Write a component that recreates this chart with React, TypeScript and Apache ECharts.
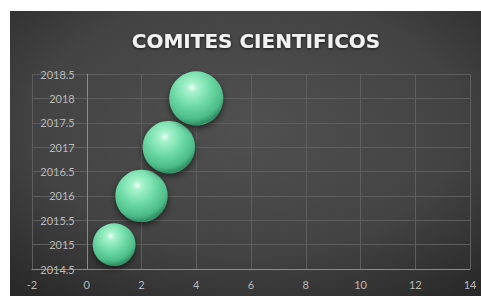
import React, { useEffect, useRef } from "react";
import * as echarts from "echarts";

const titleText = "COMITES CIENTIFICOS";
const xValues = [1, 2, 3, 4];
const yValues = [2015, 2016, 2017, 2018];
const bubbleSizes = [10, 15, 15, 16];
const xTicks = { min: -2, max: 14, interval: 2 };
const yTicks = { min: 2014.5, max: 2018.5, interval: 0.5 };

export default function App() {
  const ref = useRef<HTMLDivElement>(null);
  useEffect(() => {
    if (!ref.current) return;
    const chart = echarts.init(ref.current, null, { renderer: "svg" });
    const maxSize = Math.max(...bubbleSizes);
    const data = xValues.map((x, i) => [x, yValues[i], bubbleSizes[i]]);
    const gridLeft = 32;
    const gridRight = 11;
    const plotW = 481 - gridLeft - gridRight;
    const zeroOffset = ((0 - xTicks.min) / (xTicks.max - xTicks.min)) * plotW;
    chart.setOption({
      animation: false,
      backgroundColor: "#ffffff",
      graphic: [
        {
          type: "rect",
          z: -10,
          silent: true,
          shape: { x: 10, y: 11, width: 471, height: 285 },
          style: {
            fill: {
              type: "radial",
              x: 0.5,
              y: 0.4,
              r: 0.75,
              colorStops: [
                { offset: 0, color: "#505050" },
                { offset: 0.6, color: "#434343" },
                { offset: 1, color: "#292929" },
              ],
            },
          },
        },
      ],
      title: {
        text: titleText,
        left: 251,
        textAlign: "center",
        top: 26,
        textStyle: {
          color: "#f2f2f2",
          fontFamily: "DejaVu Sans",
          fontWeight: "bold",
          fontSize: 20,
          textShadowColor: "rgba(0,0,0,0.7)",
          textShadowBlur: 3,
          textShadowOffsetY: 1,
        },
      },
      grid: {
        left: gridLeft,
        right: gridRight,
        top: 74,
        bottom: 27,
        containLabel: false,
        outerBoundsMode: "none",
      },
      xAxis: {
        type: "value",
        min: xTicks.min,
        max: xTicks.max,
        interval: xTicks.interval,
        axisLine: { onZero: false, lineStyle: { color: "#8a8a8a", width: 1 } },
        axisTick: { show: false },
        axisLabel: {
          color: "#b8b8b8",
          fontFamily: "Lato",
          fontSize: 11,
          margin: 10,
        },
        splitLine: { show: true, lineStyle: { color: "#5e5e5e", width: 1 } },
      },
      yAxis: {
        type: "value",
        min: yTicks.min,
        max: yTicks.max,
        interval: yTicks.interval,
        offset: -zeroOffset,
        axisLine: { show: true, onZero: false, lineStyle: { color: "#8a8a8a", width: 1 } },
        axisTick: { show: false },
        axisLabel: {
          color: "#b8b8b8",
          fontFamily: "Lato",
          fontSize: 11,
          margin: 12,
          formatter: (v: number) => String(v),
        },
        splitLine: { show: true, lineStyle: { color: "#5e5e5e", width: 1 } },
      },
      series: [
        {
          type: "scatter",
          data,
          symbolSize: (v: number[]) => 54 * Math.sqrt(v[2] / maxSize),
          itemStyle: {
            color: {
              type: "radial",
              x: 0.42,
              y: 0.3,
              r: 0.75,
              colorStops: [
                { offset: 0, color: "#effff7" },
                { offset: 0.12, color: "#a8f3cd" },
                { offset: 0.45, color: "#70dca8" },
                { offset: 0.78, color: "#4cbc88" },
                { offset: 0.92, color: "#2f8e63" },
                { offset: 1, color: "#5fd29c" },
              ],
            },
            shadowColor: "rgba(0,0,0,0.55)",
            shadowBlur: 6,
            shadowOffsetY: 3,
            opacity: 1,
          },
        },
      ],
    });
    return () => chart.dispose();
  }, []);
  return (
    <div
      ref={ref}
      style={{ position: "fixed", left: 0, top: 0, width: 481, height: 296 }}
    />
  );
}
